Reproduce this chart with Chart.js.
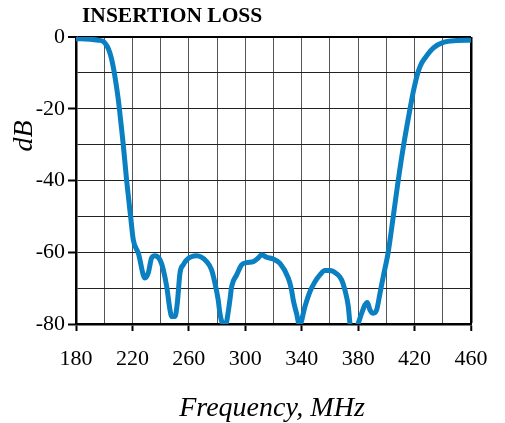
<!DOCTYPE html>
<html>
<head>
<meta charset="utf-8">
<script src="https://cdn.jsdelivr.net/npm/chart.js@4.4.1/dist/chart.umd.min.js"></script>
<style>
  html, body { margin: 0; padding: 0; background: #fff; }
  #wrap { width: 505px; height: 423px; }
</style>
</head>
<body>
<div id="wrap"><canvas id="loss-chart" width="505" height="423"></canvas></div>
<script>
'use strict';

// Insertion loss curve
const freqMHz = [
  180, 190, 196, 199.3, 202, 204.1, 206, 208, 210, 212, 213.5, 215.9, 218.7, 220.6, 224.2,
  228.9, 231.2, 233.6, 235.9, 239.5, 241.9, 244.3, 246.6, 247.8, 250.2, 251.8, 253.7,
  256, 258.5, 265.5, 272.6, 276.1, 278.5, 280.8, 282, 284.4, 285.6, 286.8, 289.1, 290.3,
  293.9, 297.4, 301, 305.7, 309.2, 311.6, 315.1, 319.8, 324.6, 330.5, 332.8, 334, 336.3,
  338.5, 342.3, 345.8, 349.4, 352.9, 356.5, 360, 364.8, 368.3, 370.6, 373, 374.2, 376.5,
  380.1, 382.5, 384.8, 386.5, 388.4, 390.7, 393.1, 395.5, 397.8, 401.3, 404.9, 408.4,
  412.3, 416.8, 419.5, 422.6, 425, 427.3, 433.2, 440.3, 449.8, 460
];
const lossDb = [
  -0.5, -0.6, -0.9, -1.2, -2.5, -4.5, -7.5, -12, -17.5, -24.5, -30, -40, -50, -56.5, -60.3,
  -67.2, -65.8, -61.6, -61, -62.1, -64.9, -69.6, -76, -77.9, -77.9, -74.2, -65.8,
  -63.5, -62.1, -61, -62.6, -64.9, -68.6, -73.3, -77, -80.5, -80.8, -79.3, -73.3, -69.6,
  -66.3, -63.5, -62.9, -62.6, -61.6, -60.7, -61.4, -61.9, -63.1, -67.2, -70.5, -73.3, -77,
  -80.3, -75.1, -71, -68.2, -66.3, -65.1, -65.1, -66, -67.7, -70.5, -75.1, -79.8, -84,
  -79.8, -77, -74.7, -74, -76.1, -77, -76.1, -71.4, -66.8, -60, -50, -40,
  -30, -20, -14.5, -9.6, -7.3, -5.9, -3.1, -1.5, -1.0, -0.9
];

const xLabelTicks = [180, 220, 260, 300, 340, 380, 420, 460];
const yLabelTicks = [0, -20, -40, -60, -80];

const SERIF = "'Liberation Serif', 'Times New Roman', serif";

// axis titles and the heading, placed where the original has them
const textPlugin = {
  id: 'texts',
  afterDraw(chart) {
    const c = chart.ctx;
    c.save();
    c.fillStyle = '#000';
    c.textBaseline = 'alphabetic';
    c.textAlign = 'left';
    c.font = `bold 21.5px ${SERIF}`;
    c.fillText('INSERTION LOSS', 82, 22);

    c.textAlign = 'center';
    c.font = `italic 28px ${SERIF}`;
    c.fillText('Frequency, MHz', 272, 416);

    c.translate(32, 136);
    c.rotate(-Math.PI / 2);
    c.fillText('dB', 0, 0);
    c.restore();
  }
};

const ctx = document.getElementById('loss-chart').getContext('2d');
new Chart(ctx, {
  type: 'line',
  data: {
    datasets: [{
      label: 'Insertion loss',
      data: freqMHz.map((f, i) => ({ x: f, y: lossDb[i] })),
      borderColor: '#0a7fc1',
      borderWidth: 5,
      pointRadius: 0,
      cubicInterpolationMode: 'monotone',
      fill: false,
    }]
  },
  options: {
    responsive: false,
    animation: false,
    devicePixelRatio: 1,
    layout: { padding: { top: 37, right: 34, left: 0, bottom: 0 } },
    plugins: { legend: { display: false }, tooltip: { enabled: false }, title: { display: false } },
    scales: {
      x: {
        type: 'linear', min: 180, max: 460,
        afterFit: s => { s.height = 99; },
        afterBuildTicks: s => { s.ticks = []; for (let v = 180; v <= 460; v += 20) s.ticks.push({ value: v }); },
        border: { display: true, color: '#000', width: 2.5 },
        grid: {
          color: c => c.tick && c.tick.value === 460 ? '#000' : '#555',
          lineWidth: c => c.tick && c.tick.value === 460 ? 2.5 : 1,
          tickLength: 7,
          tickWidth: 2,
          tickColor: c => xLabelTicks.includes(c.tick.value) ? '#000' : 'rgba(0,0,0,0)',
        },
        ticks: {
          autoSkip: false, maxRotation: 0, color: '#000', padding: 15,
          font: { family: SERIF, size: 22 },
          callback: v => xLabelTicks.includes(v) ? String(v) : '',
        }
      },
      y: {
        type: 'linear', min: -80, max: 0,
        afterFit: s => { s.width = 76; },
        afterBuildTicks: s => { s.ticks = []; for (let v = -80; v <= 0; v += 10) s.ticks.push({ value: v }); },
        border: { display: true, color: '#000', width: 2.5 },
        grid: {
          color: c => c.tick && c.tick.value === 0 ? '#000' : '#222',
          lineWidth: c => c.tick && c.tick.value === 0 ? 2 : 1,
          tickLength: 8,
          tickWidth: 2,
          tickColor: c => yLabelTicks.includes(c.tick.value) ? '#000' : 'rgba(0,0,0,0)',
        },
        ticks: {
          autoSkip: false, color: '#000', padding: 3,
          font: { family: SERIF, size: 22 },
          callback: v => yLabelTicks.includes(v) ? String(v) : '',
        }
      }
    }
  },
  plugins: [textPlugin]
});
</script>
</body>
</html>
